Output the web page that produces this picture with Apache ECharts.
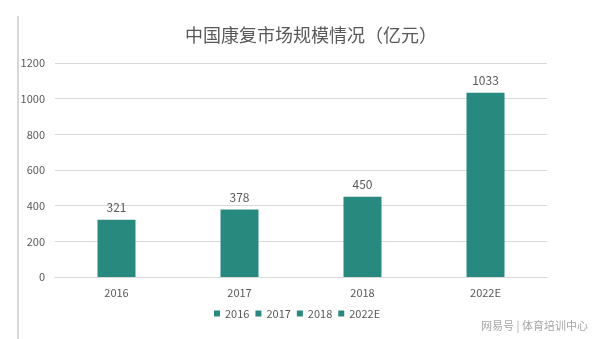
<!DOCTYPE html>
<html>
<head>
<meta charset="utf-8">
<script src="https://cdn.jsdelivr.net/npm/echarts@6/dist/echarts.min.js"></script>
<style>
html,body{margin:0;padding:0;background:#fff;}
#chart{width:600px;height:339px;}
</style>
</head>
<body>
<div id="chart"></div>
<script>
// Market size of rehabilitation in China (100 million CNY)
const categories = ['2016', '2017', '2018', '2022E'];
const values = [321, 378, 450, 1033];
const yTicks = { min: 0, max: 1200, interval: 200 };
const titleText = '中国康复市场规模情况（亿元）';
const sourceText = '网易号 | 体育培训中心';

const barColor = '#288a7e';
const textColor = '#595959';
const font = '"Noto Sans CJK SC", "Noto Sans", sans-serif';

// One series per year so the legend lists each year; bars overlap in place.
const series = categories.map((name, i) => ({
  name: name,
  type: 'bar',
  barWidth: 38,
  barGap: '-100%',
  itemStyle: { color: barColor },
  label: {
    show: true,
    position: 'top',
    distance: 6,
    color: textColor,
    fontSize: 12,
    fontFamily: font
  },
  data: categories.map((c, j) => (j === i ? values[i] : null))
}));

const chart = echarts.init(document.getElementById('chart'));
chart.setOption({
  animation: false,
  backgroundColor: '#fff',
  title: {
    text: titleText,
    left: 306,
    textAlign: 'center',
    top: 21,
    textStyle: { color: textColor, fontSize: 18, fontWeight: 'normal', fontFamily: font }
  },
  grid: { left: 55, right: 53, top: 63, bottom: 62, containLabel: false },
  legend: {
    bottom: 15,
    left: 209,
    orient: 'horizontal',
    icon: 'rect',
    itemWidth: 6,
    itemHeight: 6,
    itemGap: 6,
    textStyle: { color: textColor, fontSize: 11, fontFamily: font },
    data: categories
  },
  xAxis: {
    type: 'category',
    data: categories,
    axisLine: { lineStyle: { color: '#d9d9d9' } },
    axisTick: { show: false },
    axisLabel: { color: textColor, fontSize: 11, margin: 10, fontFamily: font }
  },
  yAxis: {
    type: 'value',
    min: yTicks.min,
    max: yTicks.max,
    interval: yTicks.interval,
    axisLine: { show: false },
    axisTick: { show: false },
    splitLine: { lineStyle: { color: '#d9d9d9' } },
    axisLabel: {
      color: textColor,
      fontSize: 11,
      margin: 10,
      fontFamily: font,
      formatter: (v) => String(v)
    }
  },
  graphic: [
    {
      type: 'line',
      shape: { x1: 18, y1: 16, x2: 18, y2: 339 },
      style: { stroke: '#b0b0b0', lineWidth: 1 }
    },
    {
      type: 'text',
      right: 12,
      bottom: 8,
      style: { text: sourceText, fill: '#a6a6a6', fontSize: 11, fontFamily: font }
    }
  ],
  series: series
});
</script>
</body>
</html>
